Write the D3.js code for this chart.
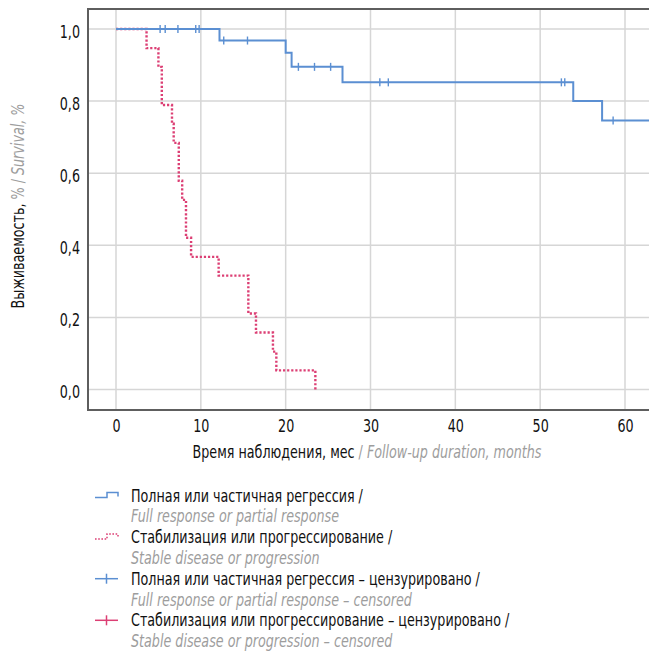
<!DOCTYPE html>
<html><head><meta charset="utf-8">
<script src="https://cdn.jsdelivr.net/npm/d3@7/dist/d3.min.js"></script>
<style>body{margin:0;background:#fff} svg{display:block}</style>
</head><body>
<svg id="c" width="649" height="653"></svg>
<script>
// ---------------- data ----------------
const xTicks = [0, 10, 20, 30, 40, 50, 60];
const xTickLabels = ["0", "10", "20", "30", "40", "50", "60"];
const yTicks = [0, 0.2, 0.4, 0.6, 0.8, 1.0];
const yTickLabels = ["0,0", "0,2", "0,4", "0,6", "0,8", "1,0"];

// Full or partial response (Kaplan–Meier steps)
const blueTimes = [0, 12.2, 20.0, 20.7, 26.7, 53.9, 57.3];
const blueSurv  = [1.0, 0.968, 0.934, 0.895, 0.852, 0.800, 0.746];
const blueEnd = 65;
const blueCensored = [5.2, 5.8, 7.3, 9.4, 9.8, 12.7, 15.5, 21.5, 23.4, 25.3, 31.1, 32.1, 52.5, 52.9, 58.6];

// Stable disease or progression
const redTimes = [0, 3.6, 5.0, 5.4, 6.6, 6.8, 7.4, 7.8, 8.25, 8.85, 12.1, 15.6, 16.5, 18.5, 18.9, 23.5];
const redSurv  = [1.0, 0.947, 0.895, 0.789, 0.737, 0.684, 0.579, 0.526, 0.421, 0.368, 0.316, 0.211, 0.158, 0.105, 0.053, 0.0];
const redCensored = [];

const legendRu = ["Полная или частичная регрессия /",
                  "Стабилизация или прогрессирование /",
                  "Полная или частичная регрессия – цензурировано /",
                  "Стабилизация или прогрессирование – цензурировано /"];
const legendEn = ["Full response or partial response",
                  "Stable disease or progression",
                  "Full response or partial response – censored",
                  "Stable disease or progression – censored"];

// ---------------- layout ----------------
const BLUE = "#5b8fd2", RED = "#dc3f74", GRID = "#d6d6d6", FRAME = "#5e5e5e", GRAY = "#9d9d9d";
const FONT = "'Liberation Sans Narrow','DejaVu Sans Condensed','Roboto Condensed',Roboto,sans-serif";
const FS = 17;
const L = 88, T = 9, R = 649, B = 410;

const svg = d3.select("#c");
const x = d3.scaleLinear().domain([0, 60]).range([116, 625]);
const y = d3.scaleLinear().domain([0, 1]).range([389.5, 29]);

// measure condensing factor so text matches reference width
const tmp = svg.append("text").attr("font-family", FONT).attr("font-size", FS).text(legendRu[0]);
const K = 232 / tmp.node().getComputedTextLength();
tmp.remove();

function txt(g, px, py, anchor) {
  return g.append("text")
    .attr("transform", `translate(${px},${py}) scale(${K},1)`)
    .attr("text-anchor", anchor)
    .attr("font-family", FONT).attr("font-size", FS).attr("fill", "#111");
}

// clip
svg.append("defs").append("clipPath").attr("id", "clip")
  .append("rect").attr("x", L).attr("y", T).attr("width", R - L + 20).attr("height", B - T);

// grid
const grid = svg.append("g");
grid.selectAll("line.gx").data(xTicks).join("line")
  .attr("x1", d => x(d)).attr("x2", d => x(d)).attr("y1", T).attr("y2", B)
  .attr("stroke", GRID).attr("stroke-width", 1.5);
grid.selectAll("line.gy").data(yTicks).join("line")
  .attr("x1", L).attr("x2", R + 5).attr("y1", d => y(d)).attr("y2", d => y(d))
  .attr("stroke", GRID).attr("stroke-width", 1.5);

// axes (labels only)
const xAxis = svg.append("g").attr("transform", `translate(0,${B})`)
  .call(d3.axisBottom(x).tickValues(xTicks).tickSize(0).tickFormat((d, i) => xTickLabels[i]));
xAxis.select(".domain").remove();
xAxis.selectAll("text").attr("y", 22).attr("dy", null)
  .attr("font-family", FONT).attr("font-size", FS).attr("fill", "#111")
  .attr("transform", `scale(${K},1)`);

const yAxis = svg.append("g").attr("transform", `translate(${L},0)`)
  .call(d3.axisLeft(y).tickValues(yTicks).tickSize(0).tickFormat((d, i) => yTickLabels[i]));
yAxis.select(".domain").remove();
yAxis.selectAll("text").attr("x", -8 / K).attr("dy", null).attr("y", 8)
  .attr("font-family", FONT).attr("font-size", FS).attr("fill", "#111")
  .attr("transform", `scale(${K},1)`);

// KM step lines
function stepPts(times, surv, end) {
  const pts = times.map((t, i) => [t, surv[i]]);
  if (end !== undefined) pts.push([end, surv[surv.length - 1]]);
  return pts;
}
const line = d3.line().x(d => x(d[0])).y(d => y(d[1])).curve(d3.curveStepAfter);
const plot = svg.append("g").attr("clip-path", "url(#clip)");

plot.append("path").datum(stepPts(redTimes, redSurv))
  .attr("d", line).attr("fill", "none").attr("stroke", RED)
  .attr("stroke-width", 2.4).attr("stroke-dasharray", "2.2,1.9");

plot.append("path").datum(stepPts(blueTimes, blueSurv, blueEnd))
  .attr("d", line).attr("fill", "none").attr("stroke", BLUE).attr("stroke-width", 2);

function survAt(times, surv, t) {
  let i = d3.bisectRight(times, t) - 1;
  return surv[Math.max(0, i)];
}
plot.selectAll("line.cb").data(blueCensored).join("line")
  .attr("x1", d => x(d)).attr("x2", d => x(d))
  .attr("y1", d => y(survAt(blueTimes, blueSurv, d)) - 4)
  .attr("y2", d => y(survAt(blueTimes, blueSurv, d)) + 4)
  .attr("stroke", BLUE).attr("stroke-width", 1.4);
plot.selectAll("line.cr").data(redCensored).join("line")
  .attr("x1", d => x(d)).attr("x2", d => x(d))
  .attr("y1", d => y(survAt(redTimes, redSurv, d)) - 4)
  .attr("y2", d => y(survAt(redTimes, redSurv, d)) + 4)
  .attr("stroke", RED).attr("stroke-width", 1.4);

// frame (left, top, bottom)
svg.append("path")
  .attr("d", `M${R + 2},${T} H${L} V${B} H${R + 2}`)
  .attr("fill", "none").attr("stroke", FRAME).attr("stroke-width", 2);

// axis titles
const xt = txt(svg, 367, 458, "middle");
xt.append("tspan").text("Время наблюдения, мес ");
xt.append("tspan").attr("fill", GRAY).text("/ ");
xt.append("tspan").attr("fill", GRAY).attr("font-style", "italic").text("Follow-up duration, months");

const yt = svg.append("text")
  .attr("transform", `translate(24,206) rotate(-90) scale(${K},1)`)
  .attr("text-anchor", "middle").attr("font-family", FONT).attr("font-size", FS).attr("fill", "#111");
yt.append("tspan").text("Выживаемость, ");
yt.append("tspan").attr("fill", GRAY).text("% / ");
yt.append("tspan").attr("fill", GRAY).attr("font-style", "italic").text("Survival, %");

// legend
const LY0 = 495.5, LS = 20.8;
const lg = svg.append("g");
legendRu.forEach((s, i) => {
  const cy = LY0 + 2 * i * LS;
  txt(lg, 131, cy + 6, "start").text(s);
  txt(lg, 131, cy + LS + 6, "start").attr("fill", GRAY).attr("font-style", "italic").text(legendEn[i]);
});
// symbols
let cy = LY0;
lg.append("path").attr("d", `M95,${cy + 2} H107 V${cy - 3} H118 V${cy + 1}`)
  .attr("fill", "none").attr("stroke", BLUE).attr("stroke-width", 1.5);
cy = LY0 + 2 * LS;
lg.append("path").attr("d", `M95,${cy + 2} H107 V${cy - 3} H118 V${cy + 1}`)
  .attr("fill", "none").attr("stroke", RED).attr("stroke-width", 1.5).attr("stroke-dasharray", "1.6,1.6");
cy = LY0 + 4 * LS;
lg.append("line").attr("x1", 95).attr("x2", 118).attr("y1", cy).attr("y2", cy).attr("stroke", BLUE).attr("stroke-width", 1.5);
lg.append("line").attr("x1", 106.5).attr("x2", 106.5).attr("y1", cy - 5).attr("y2", cy + 5).attr("stroke", BLUE).attr("stroke-width", 1.5);
cy = LY0 + 6 * LS;
lg.append("line").attr("x1", 95).attr("x2", 118).attr("y1", cy).attr("y2", cy).attr("stroke", RED).attr("stroke-width", 1.5);
lg.append("line").attr("x1", 106.5).attr("x2", 106.5).attr("y1", cy - 5).attr("y2", cy + 5).attr("stroke", RED).attr("stroke-width", 1.5);
</script>
</body></html>
